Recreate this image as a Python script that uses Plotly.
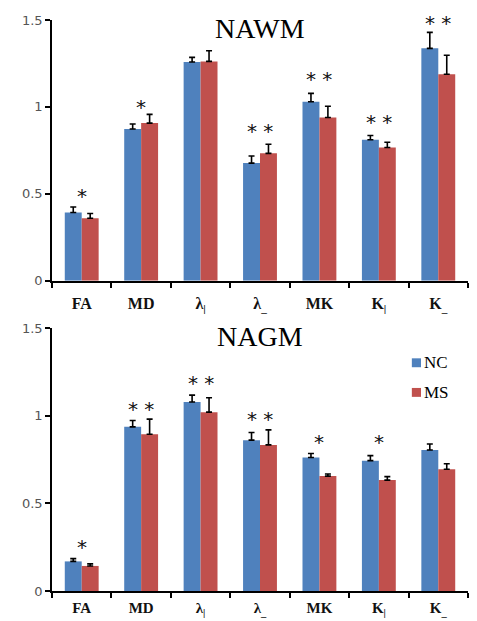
import plotly.graph_objects as go
from plotly.subplots import make_subplots

categories = ["FA", "MD", "λ<sub>|</sub>", "λ<sub>_</sub>", "MK", "K<sub>|</sub>", "K<sub>_</sub>"]
groups = ["NC", "MS"]

nawm_nc = [0.393, 0.873, 1.258, 0.677, 1.030, 0.811, 1.337]
nawm_ms = [0.360, 0.907, 1.262, 0.733, 0.939, 0.767, 1.188]
nawm_nc_err = [0.031, 0.029, 0.027, 0.041, 0.048, 0.025, 0.092]
nawm_ms_err = [0.027, 0.05, 0.061, 0.052, 0.065, 0.03, 0.109]
nawm_stars = ["*", "*", "", "* *", "* *", "* *", "* *"]
nawm_star_y = [0.487, 1.0, None, 0.862, 1.16, 0.912, 1.485]

nagm_nc = [0.169, 0.937, 1.079, 0.861, 0.762, 0.744, 0.805]
nagm_ms = [0.143, 0.895, 1.021, 0.834, 0.656, 0.633, 0.695]
nagm_nc_err = [0.016, 0.036, 0.039, 0.044, 0.023, 0.029, 0.034]
nagm_ms_err = [0.012, 0.086, 0.082, 0.086, 0.012, 0.02, 0.031]
nagm_stars = ["*", "* *", "* *", "* *", "*", "*", ""]
nagm_star_y = [0.25, 1.04, 1.185, 0.98, 0.85, 0.85, None]

colors = {"NC": "#4F81BD", "MS": "#C0504D"}

fig = make_subplots(rows=2, cols=1, vertical_spacing=0.09)

panels = [
    (1, nawm_nc, nawm_ms, nawm_nc_err, nawm_ms_err),
    (2, nagm_nc, nagm_ms, nagm_nc_err, nagm_ms_err),
]
for row, nc, ms, nce, mse in panels:
    for name, vals, errs in (("NC", nc, nce), ("MS", ms, mse)):
        fig.add_trace(go.Bar(
            x=categories, y=vals, name=name, legendgroup=name, showlegend=False,
            marker=dict(color=colors[name], line=dict(width=0)),
            error_y=dict(type="data", symmetric=False, array=errs,
                         arrayminus=[0] * len(errs), color="black",
                         thickness=1.6, width=3),
        ), row=row, col=1)

star_font = dict(family="DejaVu Sans", size=20, color="#111")
for row, stars, ys in ((1, nawm_stars, nawm_star_y), (2, nagm_stars, nagm_star_y)):
    xref = "x" if row == 1 else "x2"
    yref = "y" if row == 1 else "y2"
    for c, s, yv in zip(categories, stars, ys):
        if s:
            fig.add_annotation(x=c, y=yv, xref=xref, yref=yref, text=s,
                               showarrow=False, font=star_font)

title_font = dict(family="Liberation Serif", size=28, color="black")
fig.add_annotation(x=0.5, y=1.45, xref="x domain", yref="y", text="NAWM",
                   showarrow=False, font=title_font)
fig.add_annotation(x=0.5, y=1.45, xref="x2 domain", yref="y2", text="NAGM",
                   showarrow=False, font=title_font)

# legend (square swatch + label), placed in the lower panel
legend_font = dict(family="Liberation Serif", size=17, color="black")
for name, yc in zip(groups, (0.3997, 0.3478)):
    fig.add_shape(type="rect", xref="paper", yref="paper", x0=0.865, x1=0.887,
                  y0=yc - 0.0078, y1=yc + 0.0078, fillcolor=colors[name],
                  line=dict(width=0))
    fig.add_annotation(x=0.889, y=yc, xref="paper", yref="paper",
                       text=name, showarrow=False, xanchor="left", yanchor="middle",
                       font=legend_font)

axis_x = dict(type="category", tickson="boundaries", ticks="outside", ticklen=5,
              tickcolor="black", tickwidth=1.5, showline=True, linecolor="black",
              linewidth=1.5, showgrid=False, range=[-0.5, 6.5],
              ticklabelstandoff=7,
              tickfont=dict(family="Liberation Serif", size=16, color="#111",
                            weight="bold"))
axis_y = dict(range=[0, 1.5], dtick=0.5, ticks="outside", ticklen=5,
              tickcolor="black", tickwidth=1.5, showline=True, linecolor="black",
              linewidth=1.5, showgrid=False, zeroline=False,
              tickfont=dict(family="DejaVu Sans", size=13, color="#555"))

fig.update_xaxes(**axis_x)
fig.update_yaxes(**axis_y)

fig.update_layout(
    width=477, height=621,
    margin=dict(l=44, r=17, t=5, b=38),
    paper_bgcolor="white", plot_bgcolor="white",
    barmode="group", bargap=0.43, bargroupgap=0,
    yaxis=dict(domain=[0.5433, 1.0]),
    yaxis2=dict(domain=[0.0, 0.4602]),
    xaxis2=dict(ticklabelstandoff=2,
                tickfont=dict(family="Liberation Serif", size=15, color="#111",
                              weight="bold")),
    showlegend=False,
)

fig.write_html("out.html")
